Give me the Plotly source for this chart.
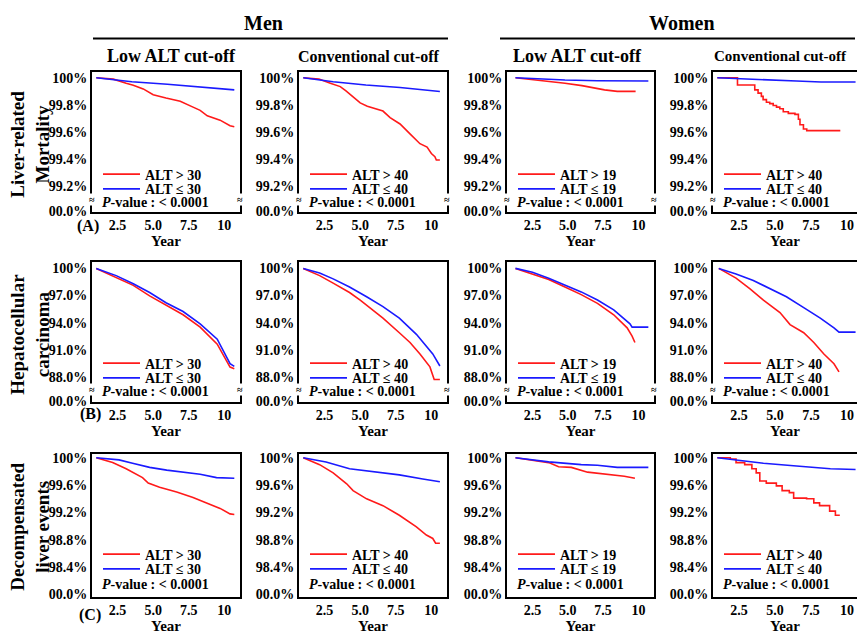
import plotly.graph_objects as go

W, H = 857, 640
FONT = "Liberation Serif"
RED = "#ff1a1a"
BLUE = "#1a1aff"

# ---------------- text / categories ----------------
sex_groups = ["Men", "Women"]
col_titles = ["Low ALT cut-off", "Conventional cut-off", "Low ALT cut-off", "Conventional cut-off"]
cutoffs = [30, 40, 19, 40]
row_titles = ["Liver-related<br>Mortality", "Hepatocellular<br>carcinoma", "Decompensated<br>liver events"]
row_tags = ["(A)", "(B)", "(C)"]
p_value_text = "<i>P</i>-value : &lt; 0.0001"
x_title = "Year"

x_tick_vals = [2.5, 5.0, 7.5, 10.0]
x_tick_text = ["2.5", "5.0", "7.5", "10"]

# y ticks (the lowest tick is the broken-axis "00.0%" label)
y_ticks_A = [99.02, 99.2, 99.4, 99.6, 99.8, 100.0]
y_text_A = ["00.0%", "99.2%", "99.4%", "99.6%", "99.8%", "100%"]
y_ticks_B = [85.3, 88.0, 91.0, 94.0, 97.0, 100.0]
y_text_B = ["00.0%", "88.0%", "91.0%", "94.0%", "97.0%", "100%"]
y_ticks_C = [98.0, 98.4, 98.8, 99.2, 99.6, 100.0]
y_text_C = ["00.0%", "98.4%", "98.8%", "99.2%", "99.6%", "100%"]

# ---------------- data (year, cumulative event-free %) ----------------
# Row A: liver-related mortality
A1_hi_t = [1.0, 2.2, 3.1, 3.6, 4.3, 5.0, 5.9, 6.9, 7.8, 8.3, 8.8, 9.7, 10.4, 10.7]
A1_hi_s = [100.0, 99.99, 99.96, 99.945, 99.918, 99.875, 99.851, 99.827, 99.784, 99.76, 99.72, 99.688, 99.647, 99.64]
A1_lo_t = [1.0, 2.0, 3.5, 6.0, 8.3, 10.7]
A1_lo_s = [100.0, 99.99, 99.971, 99.952, 99.933, 99.911]

A2_hi_t = [1.0, 2.1, 2.9, 3.6, 4.0, 4.5, 5.0, 5.5, 6.2, 6.6, 7.1, 7.8, 8.5, 9.2, 9.7, 10.0, 10.25, 10.35, 10.6]
A2_hi_s = [100.0, 99.99, 99.96, 99.935, 99.904, 99.863, 99.815, 99.79, 99.767, 99.755, 99.707, 99.66, 99.587, 99.515, 99.49, 99.443, 99.42, 99.395, 99.395]
A2_lo_t = [1.0, 3.1, 5.4, 7.8, 10.6]
A2_lo_s = [100.0, 99.971, 99.947, 99.928, 99.899]

A3_hi_t = [1.3, 3.0, 4.8, 6.0, 7.1, 7.6, 8.5, 9.8]
A3_hi_s = [100.0, 99.983, 99.96, 99.942, 99.918, 99.911, 99.9, 99.9]
A3_lo_t = [1.3, 4.8, 7.1, 9.0, 10.7]
A3_lo_s = [100.0, 99.983, 99.978, 99.976, 99.976]

A4_hi_t = [1.0, 2.4, 3.4, 3.6, 3.83, 4.06, 4.18, 4.41, 4.64, 4.88, 5.11, 5.34, 5.58, 5.93, 6.39, 6.63, 6.74, 6.98, 7.21, 9.54]
A4_hi_s = [100.0, 99.947, 99.947, 99.911, 99.887, 99.863, 99.839, 99.82, 99.81, 99.796, 99.784, 99.772, 99.75, 99.738, 99.731, 99.695, 99.654, 99.623, 99.611, 99.611]
A4_lo_t = [1.0, 4.2, 6.5, 8.2, 10.6]
A4_lo_s = [100.0, 99.983, 99.976, 99.969, 99.969]

# Row B: hepatocellular carcinoma
B1_hi_t = [1.0, 2.4, 3.6, 4.75, 5.9, 7.1, 8.3, 9.5, 10.4, 10.7]
B1_hi_s = [100.0, 99.02, 98.12, 96.96, 95.9, 94.87, 93.49, 91.61, 89.08, 88.9]
B1_lo_t = [1.0, 2.4, 3.6, 4.75, 5.9, 7.1, 8.3, 9.5, 10.4, 10.7]
B1_lo_s = [100.0, 99.2, 98.3, 97.33, 96.2, 95.23, 93.86, 92.16, 89.45, 89.16]

B2_hi_t = [1.0, 2.15, 3.1, 4.25, 5.0, 5.65, 6.6, 7.75, 8.5, 9.2, 9.9, 10.2, 10.6]
B2_hi_s = [100.0, 99.2, 98.37, 97.33, 96.5, 95.66, 94.5, 92.88, 91.8, 90.53, 89.1, 87.71, 87.71]
B2_lo_t = [1.0, 2.15, 3.1, 4.25, 5.45, 6.6, 7.75, 8.95, 10.1, 10.6]
B2_lo_s = [100.0, 99.49, 98.84, 97.94, 96.86, 95.77, 94.5, 92.7, 90.53, 89.2]

B3_hi_t = [1.3, 2.5, 3.65, 4.8, 5.95, 7.1, 8.25, 9.2, 9.55, 9.75]
B3_hi_s = [100.0, 99.39, 98.77, 97.94, 97.1, 96.13, 94.87, 93.42, 92.5, 91.8]
B3_lo_t = [1.3, 2.5, 3.65, 4.8, 5.95, 7.1, 8.25, 9.4, 9.55, 10.7]
B3_lo_s = [100.0, 99.57, 98.92, 98.12, 97.4, 96.5, 95.41, 93.86, 93.5, 93.5]

B4_hi_t = [1.1, 1.6, 2.3, 3.25, 4.2, 5.35, 6.05, 7.0, 7.7, 8.4, 9.1, 9.45]
B4_hi_s = [100.0, 99.57, 98.92, 97.76, 96.5, 95.12, 93.78, 92.88, 91.8, 90.53, 89.45, 88.54]
B4_lo_t = [1.1, 2.3, 3.5, 4.65, 5.8, 7.0, 8.15, 9.1, 9.45, 10.6]
B4_lo_s = [100.0, 99.39, 98.66, 97.76, 96.86, 95.66, 94.5, 93.42, 92.95, 92.95]

# Row C: decompensated liver events
C1_hi_t = [1.0, 2.15, 3.1, 4.25, 4.65, 5.45, 6.65, 7.8, 8.75, 9.7, 10.4, 10.7]
C1_hi_s = [100.0, 99.93, 99.84, 99.71, 99.63, 99.57, 99.5, 99.42, 99.34, 99.26, 99.18, 99.17]
C1_lo_t = [1.0, 2.6, 3.55, 4.75, 5.95, 7.1, 8.3, 9.45, 10.7]
C1_lo_s = [100.0, 99.97, 99.92, 99.86, 99.82, 99.79, 99.76, 99.71, 99.70]

C2_hi_t = [1.0, 2.15, 3.1, 4.05, 4.5, 5.45, 6.6, 7.75, 8.95, 9.65, 10.1, 10.3, 10.6]
C2_hi_s = [100.0, 99.9, 99.78, 99.62, 99.52, 99.4, 99.3, 99.16, 98.99, 98.87, 98.82, 98.75, 98.75]
C2_lo_t = [1.0, 2.6, 4.25, 5.45, 7.75, 9.4, 10.6]
C2_lo_s = [100.0, 99.94, 99.84, 99.81, 99.75, 99.69, 99.65]

C3_hi_t = [1.3, 2.5, 3.65, 4.35, 5.25, 6.4, 7.6, 9.0, 9.75]
C3_hi_s = [100.0, 99.97, 99.93, 99.87, 99.86, 99.79, 99.76, 99.73, 99.70]
C3_lo_t = [1.3, 3.65, 5.95, 7.1, 8.5, 10.7]
C3_lo_s = [100.0, 99.94, 99.9, 99.89, 99.86, 99.86]

C4_hi_t = [1.0, 1.9, 2.3, 2.9, 3.4, 3.7, 3.95, 4.4, 5.1, 5.5, 6.0, 6.3, 7.2, 7.7, 8.1, 8.8, 9.2, 9.45]
C4_hi_s = [100.0, 99.98, 99.93, 99.9, 99.84, 99.78, 99.66, 99.63, 99.59, 99.52, 99.49, 99.41, 99.4, 99.34, 99.3, 99.22, 99.16, 99.15]
C4_lo_t = [1.0, 3.0, 4.2, 6.5, 8.85, 10.6]
C4_lo_s = [100.0, 99.95, 99.92, 99.88, 99.84, 99.83]

panel_data = [
    [(A1_hi_t, A1_hi_s, A1_lo_t, A1_lo_s), (A2_hi_t, A2_hi_s, A2_lo_t, A2_lo_s),
     (A3_hi_t, A3_hi_s, A3_lo_t, A3_lo_s), (A4_hi_t, A4_hi_s, A4_lo_t, A4_lo_s)],
    [(B1_hi_t, B1_hi_s, B1_lo_t, B1_lo_s), (B2_hi_t, B2_hi_s, B2_lo_t, B2_lo_s),
     (B3_hi_t, B3_hi_s, B3_lo_t, B3_lo_s), (B4_hi_t, B4_hi_s, B4_lo_t, B4_lo_s)],
    [(C1_hi_t, C1_hi_s, C1_lo_t, C1_lo_s), (C2_hi_t, C2_hi_s, C2_lo_t, C2_lo_s),
     (C3_hi_t, C3_hi_s, C3_lo_t, C3_lo_s), (C4_hi_t, C4_hi_s, C4_lo_t, C4_lo_s)],
]
row_y_ticks = [(y_ticks_A, y_text_A), (y_ticks_B, y_text_B), (y_ticks_C, y_text_C)]

# ---------------- layout geometry (pixels) ----------------
box_x = [(92, 240), (299, 447), (507, 654), (713, 857)]
box_y = [(70, 212), (263, 405), (458, 603)]
x_ranges = [[0.7, 11.1], [0.7, 11.1], [0.7, 11.1], [0.7, 10.7]]
y_ranges = [[99.015, 100.043], [85.25, 100.72], [97.97, 100.058]]
broken_rows = [True, True, False]
legend_red_y = [173, 365, 559]
legend_gap = 15
pvalue_y = [203, 395, 591]
LEG_CENTER_OFFSET = 15  # legend top -> first item centre


def px(x):
    return x / W


def py(y):
    return 1 - y / H


def bfont(size, **kw):
    return dict(family=FONT, size=size, color="black", weight="bold", **kw)


def legname(n):
    return "legend" if n == 1 else f"legend{n}"


fig = go.Figure()
layout = dict(
    width=W, height=H, autosize=False, showlegend=True,
    margin=dict(l=0, r=0, t=0, b=0),
    paper_bgcolor="white", plot_bgcolor="white",
    font=bfont(14),
    annotations=[], shapes=[],
)

k = 0
for r in range(3):
    for c in range(4):
        k += 1
        xa = "x" if k == 1 else f"x{k}"
        ya = "y" if k == 1 else f"y{k}"
        leg_hi = legname(2 * k - 1)
        leg_lo = legname(2 * k)
        hi_t, hi_s, lo_t, lo_s = panel_data[r][c]
        step = "hv" if (c == 3 and r != 1) else "linear"
        fig.add_trace(go.Scatter(
            x=hi_t, y=hi_s, mode="lines", name=f"ALT &gt; {cutoffs[c]}",
            line=dict(color=RED, width=1.6, shape=step),
            xaxis=xa, yaxis=ya, legend=leg_hi, showlegend=True))
        fig.add_trace(go.Scatter(
            x=lo_t, y=lo_s, mode="lines", name=f"ALT ≤ {cutoffs[c]}",
            line=dict(color=BLUE, width=1.6),
            xaxis=xa, yaxis=ya, legend=leg_lo, showlegend=True))

        x0, x1 = box_x[c]
        y0, y1 = box_y[r]
        layout["xaxis" if k == 1 else f"xaxis{k}"] = dict(
            domain=[px(x0), px(x1)], anchor=ya, range=x_ranges[c],
            tickvals=x_tick_vals, ticktext=x_tick_text, ticks="",
            showgrid=False, zeroline=False, showline=True, linecolor="black",
            linewidth=2, mirror=True, tickfont=bfont(14),
            title=dict(text=x_title, font=bfont(15), standoff=0),
        )
        tv, tt = row_y_ticks[r]
        layout["yaxis" if k == 1 else f"yaxis{k}"] = dict(
            domain=[py(y1), py(y0)], anchor=xa, range=y_ranges[r],
            tickvals=tv, ticktext=tt, ticks="",
            showgrid=False, zeroline=False, showline=True, linecolor="black",
            linewidth=2, mirror=(c != 3), tickfont=bfont(14),
        )
        for j, leg in enumerate([leg_hi, leg_lo]):
            layout[leg] = dict(
                x=px(x0 + 6), y=py(legend_red_y[r] + j * legend_gap - LEG_CENTER_OFFSET),
                xanchor="left", yanchor="top",
                bgcolor="rgba(0,0,0,0)", borderwidth=0, font=bfont(14),
                itemwidth=37, tracegroupgap=0, visible=True,
            )
        layout["annotations"].append(dict(
            text=p_value_text, xref="paper", yref="paper",
            x=px(x0 + 8), y=py(pvalue_y[r]), xanchor="left", yanchor="middle",
            showarrow=False, font=bfont(14)))
        if broken_rows[r]:
            sides = [0, 1] if c != 3 else [0]
            for s in sides:
                layout["annotations"].append(dict(
                    text="≈", xref=f"{xa} domain", yref=f"{ya} domain",
                    x=s, y=12 / (y1 - y0), xanchor="center", yanchor="middle",
                    showarrow=False, font=dict(family=FONT, size=10, color="black"),
                    bgcolor="white", borderpad=0))

# headers
sex_centers = [263, 682]
sex_lines = [(93, 448), (500, 855)]
for name, cx, (lx0, lx1) in zip(sex_groups, sex_centers, sex_lines):
    layout["annotations"].append(dict(
        text=name, xref="paper", yref="paper", x=px(cx), y=py(20),
        xanchor="center", yanchor="middle", showarrow=False, font=bfont(20)))
    layout["shapes"].append(dict(
        type="line", xref="paper", yref="paper", x0=px(lx0), x1=px(lx1),
        y0=py(36), y1=py(36), line=dict(color="black", width=2)))

col_title_x = [171, 369, 577, 780]
col_title_size = [18, 16, 18, 15]
for t, cx, fs in zip(col_titles, col_title_x, col_title_size):
    layout["annotations"].append(dict(
        text=t, xref="paper", yref="paper", x=px(cx), y=py(54),
        xanchor="center", yanchor="middle", showarrow=False, font=bfont(fs)))

row_title_y = [143, 337, 532]
tag_pos = [(88, 227), (90, 418), (90, 622)]
for t, ry, tag, (tx, ty) in zip(row_titles, row_title_y, row_tags, tag_pos):
    layout["annotations"].append(dict(
        text=t, xref="paper", yref="paper", x=px(30), y=py(ry),
        xanchor="center", yanchor="middle", showarrow=False, textangle=-90,
        font=bfont(19)))
    layout["annotations"].append(dict(
        text=tag, xref="paper", yref="paper", x=px(tx), y=py(ty),
        xanchor="center", yanchor="middle", showarrow=False, font=bfont(16)))

fig.update_layout(**layout)
fig.write_html(
    "out.html",
    config={"displayModeBar": False},
    post_script="document.body.style.margin='0px';document.body.style.overflow='hidden';",
)
